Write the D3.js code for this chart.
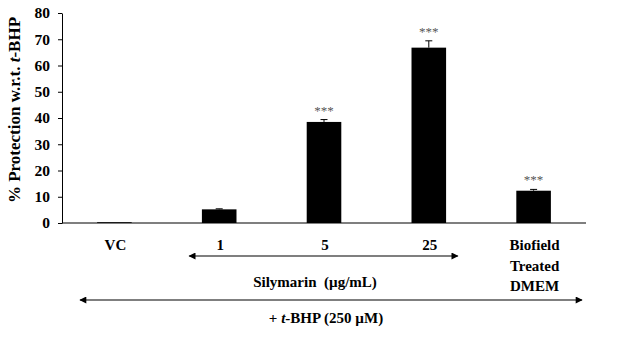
<!DOCTYPE html>
<html>
<head>
<meta charset="utf-8">
<script src="https://cdn.jsdelivr.net/npm/d3@7"></script>
<style>
  html, body { margin: 0; padding: 0; background: #fff; }
  svg { display: block; font-family: "Liberation Serif", "Times New Roman", serif; }
</style>
</head>
<body>
<svg id="chart" width="626" height="338"></svg>
<script>
// Groups, mean protection (%) and SEM
const groups = ["VC", "1", "5", "25", "Biofield Treated DMEM"];
const groupLabels = [["VC"], ["1"], ["5"], ["25"], ["Biofield", "Treated", "DMEM"]];
const protection = [0.3, 5.2, 38.5, 66.8, 12.3];
const sem = [0.1, 0.2, 0.9, 2.6, 0.5];
const significance = ["", "", "***", "***", "***"];
const yTicks = [0, 10, 20, 30, 40, 50, 60, 70, 80];

const svg = d3.select("#chart");
const plotLeft = 62, plotRight = 586, plotTop = 13, plotBottom = 223;

const x = d3.scaleBand().domain(groups).range([plotLeft, plotRight]).paddingInner(0.67).paddingOuter(0.335);
const y = d3.scaleLinear().domain([0, 80]).range([plotBottom, plotTop]);

// y axis
const yAxis = d3.axisLeft(y).tickValues(yTicks).tickSize(4).tickSizeOuter(0).tickPadding(8);
const gy = svg.append("g").attr("transform", `translate(${plotLeft},0)`).call(yAxis);
gy.select(".domain").attr("stroke", "#000").attr("stroke-width", 1);
gy.selectAll(".tick line").attr("stroke", "#000");
gy.selectAll(".tick text").attr("fill", "#000").attr("font-size", 15.5).attr("font-weight", "bold")
  .attr("font-family", "Liberation Serif, Times New Roman, serif");

// baseline
svg.append("line").attr("x1", plotLeft).attr("x2", plotRight).attr("y1", y(0)).attr("y2", y(0))
  .attr("stroke", "#000").attr("stroke-width", 1.2);

// bars
const data = groups.map((g, i) => ({ g, v: protection[i], e: sem[i], s: significance[i] }));
svg.append("g").selectAll("rect").data(data).join("rect")
  .attr("x", d => x(d.g)).attr("width", x.bandwidth())
  .attr("y", d => y(d.v)).attr("height", d => y(0) - y(d.v))
  .attr("fill", "#000");

// upper error bars
const eb = svg.append("g").attr("stroke", "#000").attr("stroke-width", 1);
data.filter(d => d.e > 0.15).forEach(d => {
  const cx = x(d.g) + x.bandwidth() / 2;
  eb.append("line").attr("x1", cx).attr("x2", cx).attr("y1", y(d.v)).attr("y2", y(d.v + d.e));
  eb.append("line").attr("x1", cx - 3.5).attr("x2", cx + 3.5).attr("y1", y(d.v + d.e)).attr("y2", y(d.v + d.e));
});

// significance stars
svg.append("g").selectAll("text").data(data.filter(d => d.s)).join("text")
  .attr("x", d => x(d.g) + x.bandwidth() / 2)
  .attr("y", d => y(d.v + d.e) - 5)
  .attr("text-anchor", "middle").attr("font-size", 13).attr("fill", "#555")
  .text(d => d.s);

// category labels
const lab = svg.append("g").attr("font-weight", "bold").attr("font-size", 15).attr("text-anchor", "middle");
groups.forEach((g, i) => {
  const cx = x(g) + x.bandwidth() / 2;
  groupLabels[i].forEach((line, j) => {
    lab.append("text").attr("x", cx + 1).attr("y", 250 + j * 20.5).text(line);
  });
});

// arrow heads
const defs = svg.append("defs");
defs.append("marker").attr("id", "head").attr("viewBox", "0 0 10 10").attr("refX", 9).attr("refY", 5)
  .attr("markerWidth", 8).attr("markerHeight", 7).attr("markerUnits", "userSpaceOnUse").attr("orient", "auto-start-reverse")
  .append("path").attr("d", "M0,0 L10,5 L0,10 Z").attr("fill", "#000");

// silymarin range arrow
const s1 = x("1") + x.bandwidth() / 2, s25 = x("25") + x.bandwidth() / 2;
svg.append("line").attr("x1", s1 - 30).attr("x2", s25 + 29).attr("y1", 256).attr("y2", 256)
  .attr("stroke", "#000").attr("stroke-width", 1.2)
  .attr("marker-start", "url(#head)").attr("marker-end", "url(#head)");
svg.append("text").attr("x", 315).attr("y", 287).attr("text-anchor", "middle")
  .attr("xml:space", "preserve").style("white-space", "pre")
  .attr("font-weight", "bold").attr("font-size", 15).text("Silymarin  (µg/mL)");

// t-BHP arrow across all groups
svg.append("line").attr("x1", 80).attr("x2", 582).attr("y1", 300).attr("y2", 300)
  .attr("stroke", "#000").attr("stroke-width", 1.2)
  .attr("marker-start", "url(#head)").attr("marker-end", "url(#head)");
const tb = svg.append("text").attr("x", 326).attr("y", 323).attr("text-anchor", "middle")
  .attr("font-weight", "bold").attr("font-size", 15);
tb.append("tspan").text("+ ");
tb.append("tspan").attr("font-style", "italic").text("t");
tb.append("tspan").text("-BHP (250 µM)");

// y axis title
const yt = svg.append("text").attr("transform", "translate(20,110) rotate(-90)").attr("text-anchor", "middle")
  .attr("font-weight", "bold").attr("font-size", 17);
yt.append("tspan").text("% Protection w.r.t. ");
yt.append("tspan").attr("font-style", "italic").text("t");
yt.append("tspan").text("-BHP");
</script>
</body>
</html>
